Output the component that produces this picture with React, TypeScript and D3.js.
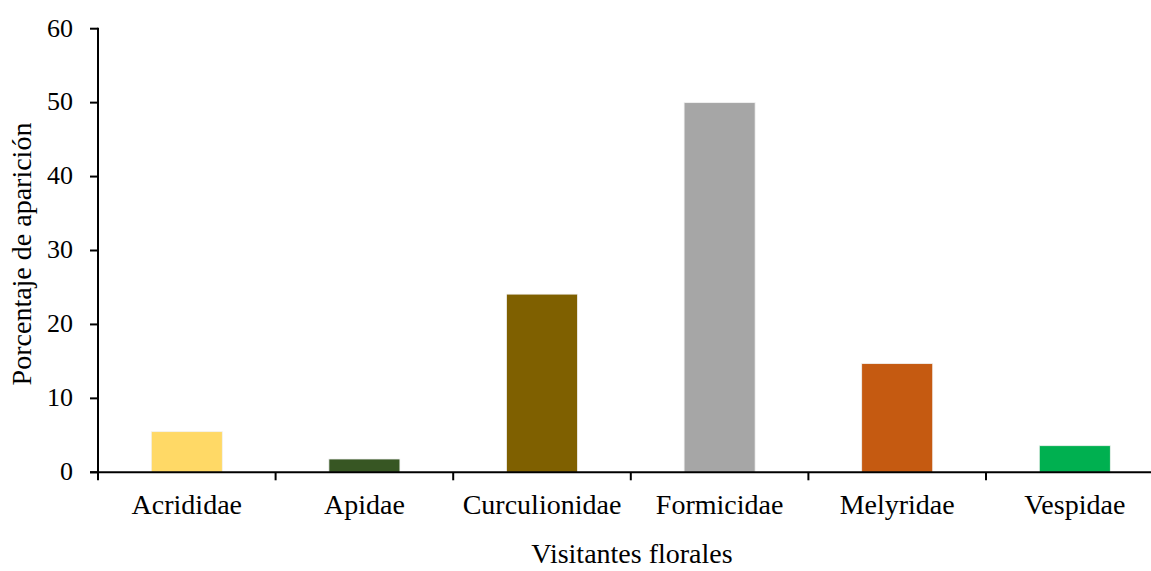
import React from "react";
import * as d3 from "d3";

const categories = ["Acrididae", "Apidae", "Curculionidae", "Formicidae", "Melyridae", "Vespidae"];
const values = [5.5, 1.8, 24.1, 50.0, 14.7, 3.6];
const colors = ["#FFD966", "#375623", "#7F6000", "#A6A6A6", "#C55A11", "#00B050"];
const yTicks = [0, 10, 20, 30, 40, 50, 60];
const xTitle = "Visitantes florales";
const yTitle = "Porcentaje de aparición";

const W = 1151;
const H = 571;
const left = 98;
const step = 177.6;
const right = left + step * categories.length;
const top = 28.7;
const bottom = 472.3;
const font = "'Liberation Serif', 'Times New Roman', serif";

export default function App() {
  const x = d3.scaleBand<string>().domain(categories).range([left, right]).paddingInner(0.6).paddingOuter(0.3);
  const y = d3.scaleLinear().domain([0, 60]).range([bottom, top]);
  const boundaries = categories.map((_, i) => left + i * step);

  return (
    <svg width={W} height={H} style={{ position: "absolute", left: 0, top: 0, display: "block", background: "#fff" }}>
      {categories.map((c, i) => (
        <rect
          key={c}
          x={x(c)!}
          y={y(values[i])}
          width={x.bandwidth()}
          height={bottom - y(values[i])}
          fill={colors[i]}
          stroke="#f2f2f2"
          strokeWidth={0.8}
        />
      ))}
      {/* y axis */}
      <line x1={left} x2={left} y1={top - 1} y2={bottom} stroke="#000" strokeWidth={2} />
      {yTicks.map((t) => (
        <g key={t}>
          <line x1={left - 8} x2={left} y1={y(t)} y2={y(t)} stroke="#000" strokeWidth={2} />
          <text x={73} y={y(t)} dy="0.3em" textAnchor="end" fontFamily={font} fontSize={26} fill="#000">
            {t}
          </text>
        </g>
      ))}
      {/* x axis */}
      <line x1={left - 8} x2={right} y1={bottom} y2={bottom} stroke="#000" strokeWidth={2} />
      {boundaries.map((b, i) => (
        <line key={i} x1={b} x2={b} y1={bottom} y2={bottom + 8} stroke="#000" strokeWidth={2} />
      ))}
      {categories.map((c) => (
        <text key={c} x={x(c)! + x.bandwidth() / 2} y={514} textAnchor="middle" fontFamily={font} fontSize={28} fill="#000">
          {c}
        </text>
      ))}
      <text x={632} y={563} textAnchor="middle" fontFamily={font} fontSize={28} fill="#000">
        {xTitle}
      </text>
      <text
        transform={`translate(31, 254) rotate(-90)`}
        textAnchor="middle"
        fontFamily={font}
        fontSize={28}
        fill="#000"
      >
        {yTitle}
      </text>
    </svg>
  );
}
